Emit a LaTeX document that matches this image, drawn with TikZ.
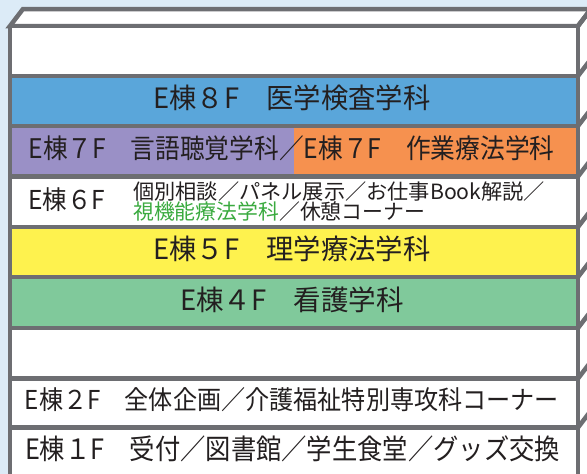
\documentclass[tikz,border=0pt]{standalone}
\usepackage{fontspec}
\usepackage{graphicx}
\newfontfamily\jp{Noto Sans CJK JP}
\definecolor{bgsky}{HTML}{DCEBF7}
\definecolor{bgray}{HTML}{6D6E72}
\definecolor{fblue}{HTML}{5AA6DA}
\definecolor{fpurple}{HTML}{9A90C6}
\definecolor{forange}{HTML}{F6914F}
\definecolor{fyellow}{HTML}{FEF24E}
\definecolor{fgreen}{HTML}{80C99B}
\definecolor{tgreen}{HTML}{3AAA3F}
\definecolor{ink}{HTML}{231F20}
\newsavebox\fitbox
\newlength\fitlen
\newcommand\fitw[2]{\sbox\fitbox{#2}\setlength\fitlen{\wd\fitbox}\pgfmathsetmacro\fitratio{#1/\fitlen}\scalebox{\fitratio}[1]{\usebox\fitbox}}
\tikzset{
  edge/.style={draw=bgray, line width=4.5pt, line join=miter},
  lbl/.style={inner sep=0pt, text=ink, text height=0.88em, text depth=0.12em},
  lbl28/.style={lbl, font=\jp\fontsize{28pt}{32pt}\selectfont},
  lbl27/.style={lbl, font=\jp\fontsize{27pt}{31pt}\selectfont},
  lbl26/.style={lbl, font=\jp\fontsize{26pt}{30pt}\selectfont},
  lbl21/.style={lbl, font=\jp\fontsize{21pt}{24pt}\selectfont},
}
\begin{document}
\begin{tikzpicture}[x=1pt,y=-1pt]
\useasboundingbox (0,0) rectangle (587,474);
\clip (0,0) rectangle (587,474);
% background
\fill[bgsky] (0,0) rectangle (587,474);
% side face
\fill[white] (578,26) -- (591,9) -- (591,480) -- (578,480) -- cycle;
% top face
\filldraw[fill=white, edge] (10,26) -- (23,9) -- (591,9) -- (578,26) -- cycle;
% floor fills
\fill[white]   (10,26)    rectangle (578,76);
\fill[fblue]   (10,76)    rectangle (578,126);
\fill[fpurple] (10,126)   rectangle (294,176.5);
\fill[forange] (294,126)  rectangle (578,176.5);
\fill[white]   (10,176.5) rectangle (578,227);
\fill[fyellow] (10,227)   rectangle (578,277);
\fill[fgreen]  (10,277)   rectangle (578,328);
\fill[white]   (10,328)   rectangle (578,480);
% front edges
\draw[edge] (10,26) -- (10,480);
\draw[edge] (578,26) -- (578,480);
\foreach \yy in {26,76,126,176.5,227,277,328,378.5,427.5}{
  \draw[edge] (10,\yy) -- (578,\yy);
  \draw[edge] (578,\yy) -- (591,\yy-17);
}
% labels
\node[lbl28] (f8) at (292,105) {\fitw{277}{E棟８F　医学検査学科}};
\node[lbl27] (f7) at (291.5,155) {\fitw{526}{E棟７F　言語聴覚学科／E棟７F　作業療法学科}};
\node[lbl26, anchor=west] (f6) at (28,205.5) {\fitw{77}{E棟６F}};
\node[lbl21, anchor=west] (f6a) at (133,195.5) {\fitw{412}{個別相談／パネル展示／お仕事Book解説／}};
\node[lbl21, anchor=west] (f6b) at (133,215.5) {\fitw{292}{\textcolor{tgreen}{視機能療法学科}／休憩コーナー}};
\node[lbl28] (f5) at (292,256) {\fitw{277}{E棟５F　理学療法学科}};
\node[lbl28] (f4) at (292,306.5) {\fitw{224}{E棟４F　看護学科}};
\node[lbl26] (f2) at (292,406) {\fitw{534}{E棟２F　全体企画／介護福祉特別専攻科コーナー}};
\node[lbl28] (f1) at (292.5,456) {\fitw{535}{E棟１F　受付／図書館／学生食堂／グッズ交換}};
\end{tikzpicture}
\end{document}
